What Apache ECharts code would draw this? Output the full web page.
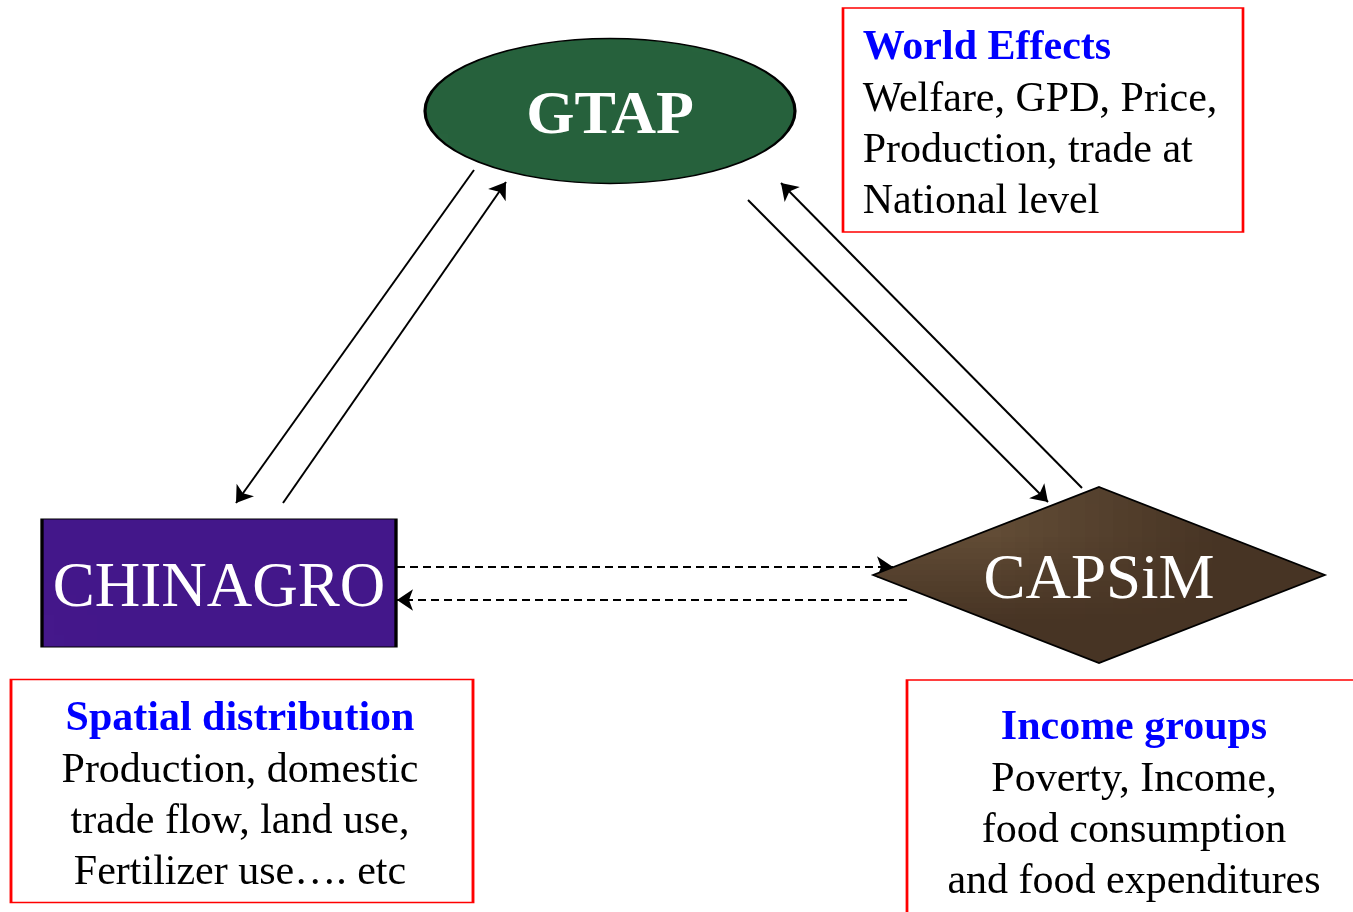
<!DOCTYPE html>
<html>
<head>
<meta charset="utf-8">
<script src="https://cdn.jsdelivr.net/npm/echarts@6/dist/echarts.min.js"></script>
<style>
  html, body { margin: 0; padding: 0; background: #fff; }
  #main { width: 1353px; height: 912px; }
</style>
</head>
<body>
<div id="main"></div>
<script>
// model nodes (centre positions in page units)
var nodeNames = ['GTAP', 'CHINAGRO', 'CAPSiM'];
var nodeX = [610, 219, 1099];
var nodeY = [111, 583, 575];

// solid arrows between models
var arrowFrom = [[474, 170], [283, 503], [748, 200], [1082, 488]];
var arrowTo = [[236, 503], [506, 182], [1048, 502], [781, 183]];

// dashed arrows between CHINAGRO and CAPSiM
var dashFrom = [[397, 567], [907, 600]];
var dashTo = [[893, 567], [397, 600]];

// result boxes
var boxTitles = ['World Effects', 'Spatial distribution', 'Income groups'];
var boxLines = [
    ['Welfare, GPD, Price,', 'Production, trade at', 'National level'],
    ['Production, domestic', 'trade flow, land use,', 'Fertilizer use…. etc'],
    ['Poverty, Income,', 'food consumption', 'and food expenditures']
];
var boxX = [1043, 242, 1137];
var boxY = [120, 791, 800];

var serif = '"Liberation Serif", "Times New Roman", serif';

// small deterministic hash for the surface textures
function h(n) {
    var s = Math.sin(n * 12.9898 + 78.233) * 43758.5453;
    return s - Math.floor(s);
}

function marble(base, light, dark, w, hgt, count) {
    var c = document.createElement('canvas');
    c.width = w; c.height = hgt;
    var ctx = c.getContext('2d');
    ctx.fillStyle = base;
    ctx.fillRect(0, 0, w, hgt);
    for (var i = 0; i < count; i++) {
        var x = h(i * 3.1) * w, y = h(i * 7.7 + 1) * hgt;
        var r = 2 + h(i * 5.3 + 2) * 9;
        ctx.globalAlpha = 0.10 + h(i * 2.9 + 3) * 0.18;
        ctx.fillStyle = h(i * 1.7 + 4) > 0.5 ? light : dark;
        ctx.beginPath();
        ctx.ellipse(x, y, r, r * (0.4 + h(i + 9) * 0.6), h(i * 4.1) * 3.14, 0, Math.PI * 2);
        ctx.fill();
    }
    ctx.globalAlpha = 1;
    return c;
}

function wood(base, light, dark, w, hgt, count) {
    var c = document.createElement('canvas');
    c.width = w; c.height = hgt;
    var ctx = c.getContext('2d');
    ctx.fillStyle = base;
    ctx.fillRect(0, 0, w, hgt);
    for (var i = 0; i < count; i++) {
        var y = h(i * 3.3) * hgt;
        var x = h(i * 6.1 + 2) * w;
        var len = 40 + h(i * 2.2 + 5) * 200;
        ctx.globalAlpha = 0.12 + h(i * 8.3) * 0.2;
        ctx.strokeStyle = h(i * 1.3 + 7) > 0.45 ? light : dark;
        ctx.lineWidth = 1 + h(i * 9.1) * 2;
        ctx.beginPath();
        ctx.moveTo(x, y);
        ctx.quadraticCurveTo(x + len / 2, y - 2 + h(i) * 4, x + len, y + 1 - h(i * 3) * 6);
        ctx.stroke();
    }
    ctx.globalAlpha = 1;
    return c;
}

var nodeStyles = [
    { symbol: 'circle', size: [370, 145], color: { image: marble('#26613c', '#5a9a72', '#0f3a20', 380, 150, 1600), repeat: 'repeat' }, bold: 'bold' },
    { symbol: 'rect', size: [354, 128], color: { image: marble('#43178a', '#5a2aa0', '#2e0b6a', 360, 130, 1200), repeat: 'repeat' }, bold: 'normal' },
    { symbol: 'diamond', size: [452, 176], color: { image: wood('#473424', '#7a6248', '#2c1d12', 460, 180, 260), repeat: 'repeat' }, bold: 'normal' }
];

var nodeData = [];
nodeNames.forEach(function (name, i) {
    var st = nodeStyles[i];
    nodeData.push({
        name: name,
        value: [nodeX[i], nodeY[i]],
        symbol: st.symbol,
        symbolSize: st.size,
        itemStyle: { color: st.color, borderColor: '#000', borderWidth: 2, opacity: 1 },
        label: {
            show: true,
            position: 'inside',
            offset: [0, 6],
            formatter: name,
            color: '#fff',
            fontFamily: serif,
            fontSize: i === 0 ? 62 : 63,
            fontWeight: st.bold
        }
    });
});

var boxData = [];
boxTitles.forEach(function (title, i) {
    var txt = '{t|' + title + '}';
    boxLines[i].forEach(function (l) { txt += '\n{b|' + l + '}'; });
    var left = i === 0;
    boxData.push({
        name: title,
        value: [boxX[i], boxY[i]],
        symbol: 'rect',
        symbolSize: i === 0 ? [400, 224] : (i === 1 ? [462, 223] : [460, 240]),
        itemStyle: { color: '#fff', borderColor: '#f00', borderWidth: 2, opacity: 1 },
        label: {
            show: true,
            position: left ? 'insideLeft' : 'inside',
            distance: left ? 21 : 0,
            align: left ? 'left' : 'center',
            offset: left ? [0, 5] : (i === 2 ? [-3, 5] : [-2, 5]),
            formatter: txt,
            rich: {
                t: { fontFamily: serif, fontSize: 42, fontWeight: 'bold', color: '#0000ff', lineHeight: 51, align: left ? 'left' : 'center' },
                b: { fontFamily: serif, fontSize: 42, color: '#000', lineHeight: 51, align: left ? 'left' : 'center' }
            }
        }
    });
});

function pairs(from, to) {
    var out = [];
    from.forEach(function (p, i) { out.push({ coords: [p, to[i]] }); });
    return out;
}

var myChart = echarts.init(document.getElementById('main'));
var option = {
    animation: false,
    backgroundColor: '#fff',
    grid: { left: 0, right: 0, top: 0, bottom: 0 },
    xAxis: { type: 'value', min: 0, max: 1353, show: false },
    yAxis: { type: 'value', min: 0, max: 912, inverse: true, show: false },
    series: [
        {
            type: 'scatter',
            name: 'boxes',
            z: 1,
            silent: true,
            data: boxData
        },
        {
            type: 'lines',
            name: 'solid',
            coordinateSystem: 'cartesian2d',
            z: 2,
            symbol: ['none', 'arrow'],
            symbolSize: 16,
            lineStyle: { color: '#000', width: 2, opacity: 1 },
            data: pairs(arrowFrom, arrowTo)
        },
        {
            type: 'lines',
            name: 'dashed',
            coordinateSystem: 'cartesian2d',
            z: 2,
            symbol: ['none', 'arrow'],
            symbolSize: 16,
            lineStyle: { color: '#000', width: 2, type: [8, 5], opacity: 1 },
            data: pairs(dashFrom, dashTo)
        },
        {
            type: 'scatter',
            name: 'models',
            z: 3,
            silent: true,
            data: nodeData
        }
    ]
};
myChart.setOption(option, true);
</script>
</body>
</html>
